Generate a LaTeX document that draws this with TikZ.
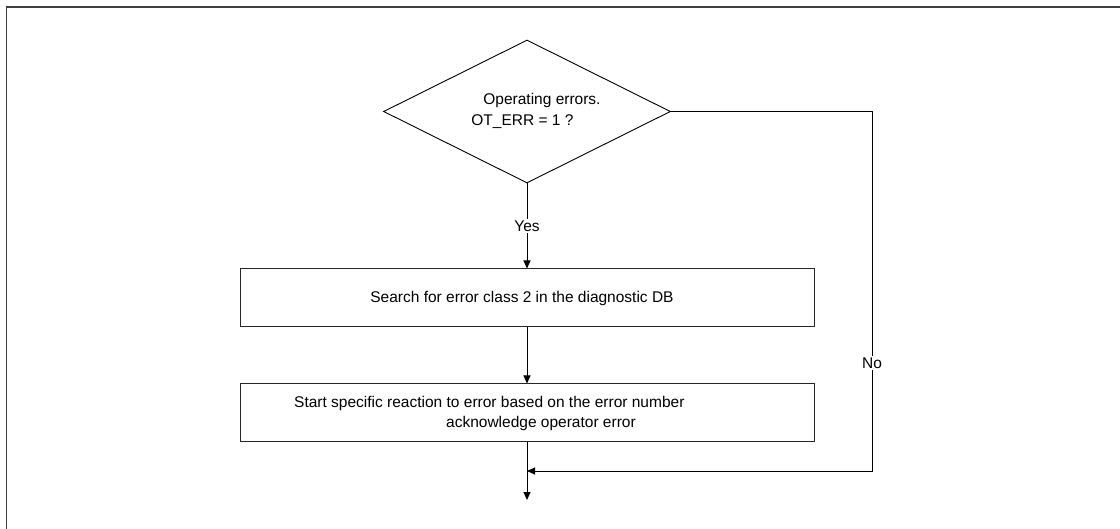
\documentclass[tikz,border=0pt]{standalone}
\usepackage{fontspec}
\setmainfont{Liberation Sans}
\usetikzlibrary{shapes.geometric,arrows.meta}
\begin{document}
\begin{tikzpicture}[x=1pt,y=-1pt,
  font=\fontsize{15.5}{21}\selectfont,
  line/.style={draw=black, line width=0.9pt},
  arr/.style={line, -{Triangle[length=8pt,width=7pt]}},
  procbox/.style={draw=black!85, line width=1pt, minimum width=574pt, minimum height=58pt, inner sep=0pt},
  lbl/.style={fill=white, inner sep=1.5pt},
  frame/.style={draw=black!75, line width=1.6pt}
]
\useasboundingbox (0,0) rectangle (1120,529);
\draw[frame] (6.5,529) -- (6.5,7) -- (1120,7);
% decision
\node[line, diamond, minimum width=287pt, minimum height=143pt, aspect=2, inner sep=0pt] (dec) at (527,111.5) {};
\node[align=left, inner sep=0pt, anchor=center] (dectext) at (536,111) {\hspace*{12pt}Operating errors.\\OT\_ERR = 1 ?};
% boxes
\node[procbox] (b1) at (527,298) {};
\node[inner sep=0pt] (b1text) at (522,298) {Search for error class 2 in the diagnostic DB};
\node[procbox] (b2) at (527,413) {};
\node[align=left, inner sep=0pt, anchor=west, font=\fontsize{15.5}{20}\selectfont] (b2text) at (294,413) {Start specific reaction to error based on the error number\\\hspace*{152pt}acknowledge operator error};
% connectors
\coordinate (merge) at (527,471);
\coordinate (out) at (527,500);
\coordinate (rc) at (872,111.5);
\coordinate (rb) at (872,471);
\draw[arr] (dec.south) -- node[lbl] (yes) {Yes} (b1.north);
\draw[arr] (b1.south) -- (b2.north);
\draw[arr] (b2.south) -- (out);
\draw[arr] (dec.east) -- (rc) -- node[lbl, pos=0.70] (no) {No} (rb) -- (merge);
\end{tikzpicture}
\end{document}
